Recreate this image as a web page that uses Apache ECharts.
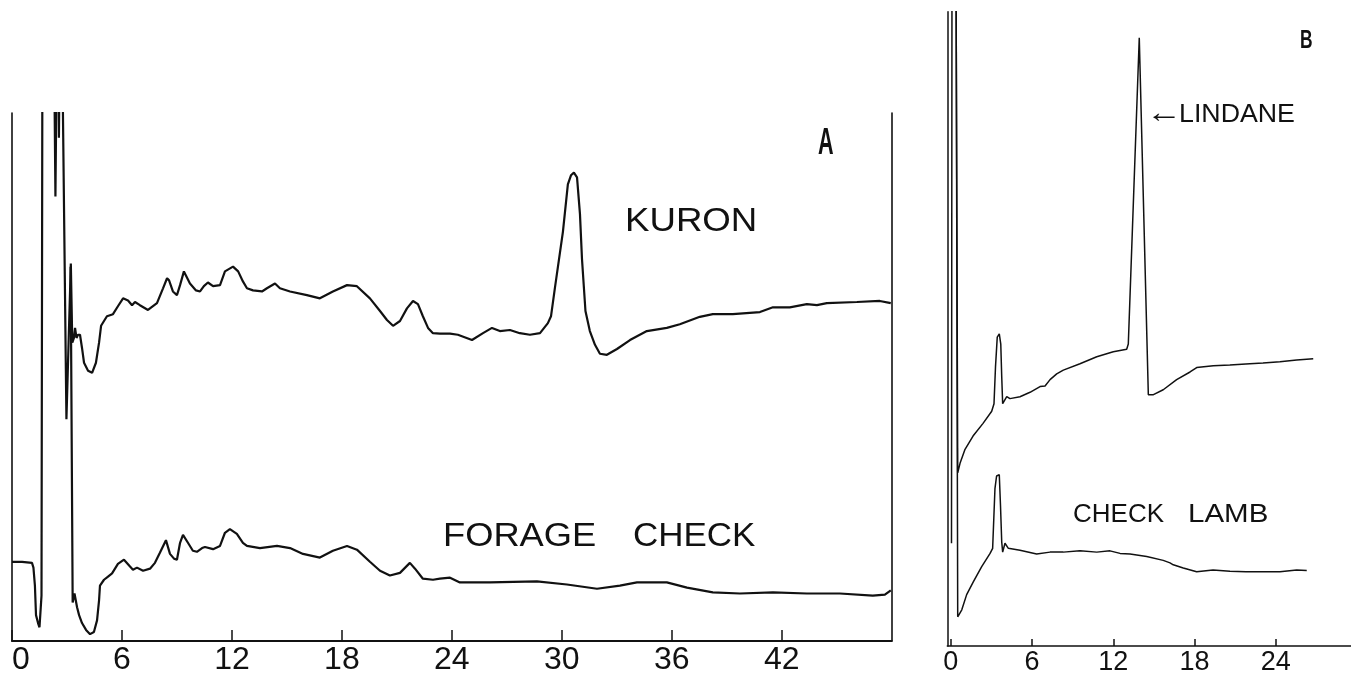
<!DOCTYPE html>
<html>
<head>
<meta charset="utf-8">
<script src="https://cdn.jsdelivr.net/npm/echarts@6/dist/echarts.min.js"></script>
<style>
html,body{margin:0;padding:0;background:#fff;}
#chart{width:1351px;height:676px;}
</style>
</head>
<body>
<div id="chart"></div>
<script>
// ---- DATA (time in minutes, detector response in arbitrary units; >100 = off scale) ----
const ticksA = [0, 6, 12, 18, 24, 30, 36, 42];
const ticksB = [0, 6, 12, 18, 24];

const kuron = [
  [2.29,115],[2.37,84.2],[2.45,115],['-','-'],
  [2.53,115],[2.56,95.3],[2.61,115],['-','-'],
  [2.73,115],[2.97,42.0],[3.21,71.5],[3.29,56.5],[3.38,57.4],[3.44,59.3],[3.52,57.4],[3.60,58.0],
  [3.71,58.0],[3.82,55.5],[3.93,52.7],[4.15,51.2],[4.37,50.8],[4.58,52.7],[4.75,56.5],[4.86,59.7],
  [5.18,61.5],[5.51,61.9],[5.78,63.4],[6.06,64.9],[6.33,64.5],[6.55,63.6],[6.71,64.2],[6.98,63.6],
  [7.42,62.7],[7.91,64.0],[8.24,66.8],[8.46,68.7],[8.57,68.3],[8.78,66.2],[9.00,65.5],[9.17,67.4],
  [9.38,70.0],[9.71,67.7],[10.04,66.4],[10.26,66.2],[10.47,67.2],[10.69,67.9],[10.97,67.2],[11.35,67.4],
  [11.62,70.0],[12.06,70.9],[12.34,70.0],[12.60,68.1],[12.82,66.8],[13.15,66.4],[13.64,66.2],[13.91,66.8],
  [14.35,67.7],[14.62,66.8],[15.17,66.2],[16.09,65.5],[16.80,64.9],[17.51,66.2],[18.28,67.4],[18.82,67.2],
  [19.53,64.9],[20.08,62.5],[20.46,60.8],[20.79,59.7],[21.17,60.6],[21.55,63.0],[21.88,64.4],[22.15,63.8],
  [22.42,61.5],[22.70,59.3],[22.97,58.3],[23.35,58.2],[23.90,58.2],[24.33,58.0],[25.10,57.0],[25.70,58.3],
  [26.19,59.3],[26.62,58.7],[27.17,58.9],[27.71,58.3],[28.26,58.0],[28.81,58.3],[29.24,60.2],[29.41,61.5],
  [29.62,66.8],[30.06,77.5],[30.33,86.5],[30.50,88.2],[30.66,88.7],[30.83,87.8],[30.99,80.9],[31.10,72.4],
  [31.29,62.5],[31.53,58.7],[31.81,56.1],[32.08,54.4],[32.46,54.2],[33.01,55.3],[33.72,57.0],[34.64,58.7],
  [35.73,59.3],[36.44,60.0],[37.53,61.4],[38.24,61.9],[39.33,61.9],[40.81,62.3],[41.52,63.2],[42.44,63.2],
  [43.37,63.8],[43.92,63.6],[44.46,64.0],[46.10,64.2],[47.35,64.4],[47.95,64.0]
];

const forageCheck = [
  [0.00,15.0],[0.55,15.0],[1.09,14.8],[1.17,13.9],[1.25,10.5],[1.31,4.9],[1.42,3.4],[1.50,2.6],
  [1.57,2.8],[1.61,8.6],[1.66,115],['-','-'],
  [3.20,70.9],[3.31,7.3],[3.36,7.3],[3.41,9.0],[3.49,9.2],[3.55,6.4],[3.66,4.9],[3.82,3.4],
  [4.04,2.1],[4.26,1.3],[4.47,1.7],[4.64,3.9],[4.75,7.7],[4.80,10.5],[5.02,11.6],[5.24,12.2],
  [5.46,12.8],[5.78,14.6],[6.11,15.4],[6.44,14.1],[6.60,13.5],[6.82,13.9],[7.15,13.3],[7.53,13.7],
  [7.80,14.8],[8.07,16.7],[8.40,19.1],[8.62,16.5],[8.84,15.6],[9.00,15.4],[9.17,18.6],[9.33,20.1],
  [9.60,18.6],[9.87,17.1],[10.09,16.9],[10.37,17.6],[10.53,17.8],[10.97,17.4],[11.35,18.0],[11.62,20.5],
  [11.89,21.2],[12.27,20.3],[12.60,18.6],[12.82,18.0],[13.53,17.6],[14.46,18.0],[15.17,17.6],[15.88,16.5],
  [16.80,15.8],[17.51,17.1],[18.28,18.0],[18.82,17.3],[19.53,15.0],[20.08,13.3],[20.62,12.4],[21.17,12.9],
  [21.71,14.8],[21.99,13.7],[22.42,11.8],[22.97,11.6],[23.35,11.8],[23.90,12.0],[24.44,11.1],[26.08,11.1],
  [28.64,11.3],[30.28,10.7],[31.92,9.9],[33.17,10.5],[34.10,11.1],[35.73,11.1],[36.83,10.1],[38.24,9.2],
  [39.72,9.0],[41.52,9.2],[43.37,9.0],[45.17,9.0],[46.97,8.6],[47.63,8.8],[47.95,9.6]
];

const lindane = [
  [0.37,115],[0.51,27.3],[0.68,28.8],[1.05,31.0],[1.64,33.1],[2.38,35.1],[3.02,37.0],[3.19,38.2],
  [3.30,44.0],[3.43,48.7],[3.58,49.2],[3.69,47.6],[3.76,42.5],[3.83,38.2],[3.93,38.1],[4.13,39.3],
  [4.37,39.0],[5.11,39.3],[5.85,40.0],[6.59,40.9],[6.96,41.0],[7.33,42.0],[7.82,42.9],[8.31,43.5],
  [9.54,44.5],[10.78,45.6],[12.00,46.4],[12.99,46.8],[13.11,47.6],[13.92,95.9],[14.03,95.9],[14.59,39.6],
  [14.93,39.6],[15.69,40.4],[16.68,42.0],[17.67,43.2],[18.16,43.9],[19.39,44.2],[20.61,44.3],[22.09,44.5],
  [23.06,44.6],[24.31,44.8],[25.55,45.1],[26.77,45.3]
];

const checkLamb = [
  [0.05,16.2],[0.09,115],[0.38,115],[0.51,4.6],[0.81,5.7],[1.17,8.1],[1.66,10.1],[2.28,12.5],
  [2.90,14.6],[3.09,15.4],[3.26,24.8],[3.38,26.8],[3.58,27.0],[3.67,22.1],[3.76,16.4],[3.83,14.8],
  [4.00,16.2],[4.25,15.4],[5.11,15.1],[6.34,14.5],[7.33,14.8],[8.31,14.8],[9.54,15.0],[10.78,14.8],
  [11.76,15.0],[12.50,14.6],[13.24,14.5],[14.47,14.1],[15.69,13.5],[16.19,13.1],[16.43,12.8],[17.17,12.3],
  [18.16,11.7],[19.37,12.0],[20.62,11.8],[21.80,11.7],[23.08,11.7],[24.31,11.7],[25.55,12.0],[26.29,11.9]
];

// ---- CHART ----
const ink = '#111';
const FONT = 'Liberation Sans, DejaVu Sans, sans-serif';
const chart = echarts.init(document.getElementById('chart'), null, {renderer: 'canvas'});

function xAxisFor(gridIndex, min, max, ticks, fontSize, tickLen, lineW, alignMin) {
  const label = {show: true, customValues: ticks, margin: 3, color: ink,
    fontFamily: FONT, fontSize: fontSize};
  if (alignMin) label.alignMinLabel = alignMin;
  return {
    type: 'value', gridIndex: gridIndex, min: min, max: max,
    axisLine: {show: true, onZero: false, lineStyle: {color: ink, width: lineW}},
    axisTick: {show: true, inside: true, length: tickLen, customValues: ticks, lineStyle: {color: ink, width: 1.5}},
    axisLabel: label,
    splitLine: {show: false}
  };
}
function yAxisFor(gridIndex, position, lineW) {
  return {
    type: 'value', gridIndex: gridIndex, min: 0, max: 100, position: position,
    axisLine: {show: true, onZero: false, lineStyle: {color: ink, width: lineW}},
    axisTick: {show: false}, axisLabel: {show: false}, splitLine: {show: false}
  };
}
function trace(name, data, xi, yi, w) {
  return {
    name: name, type: 'line', data: data, xAxisIndex: xi, yAxisIndex: yi,
    showSymbol: false, symbol: 'none', clip: true, connectNulls: false,
    lineStyle: {color: ink, width: w}, animation: false, silent: true
  };
}
// text annotation: x,y = top-left of text box; sx = horizontal stretch
const txt = (x, y, s, size, sx, weight) => ({
  type: 'text', x: x, y: y, silent: true, scaleX: sx || 1, scaleY: 1,
  style: {text: s, fill: ink, fontSize: size, fontWeight: weight || 'normal',
    fontFamily: FONT, align: 'left', verticalAlign: 'top'}
});

chart.setOption({
  backgroundColor: '#fff',
  animation: false,
  grid: [
    {left: 12, top: 113, right: 459.3, bottom: 30},
    {left: 947.3, top: 11.7, right: 0, bottom: 24.3}
  ],
  xAxis: [
    xAxisFor(0, 0, 48, ticksA, 32, 11, 2, 'left'),
    xAxisFor(1, -0.26, 29.56, ticksB, 27, 7, 1.5)
  ],
  yAxis: [
    yAxisFor(0, 'left', 1.6),
    yAxisFor(0, 'right', 1.6),
    yAxisFor(1, 'left', 1.5)
  ],
  series: [
    trace('KURON', kuron, 0, 0, 2.2),
    trace('FORAGE CHECK', forageCheck, 0, 0, 2.2),
    trace('LINDANE', lindane, 1, 2, 1.5),
    trace('CHECK LAMB', checkLamb, 1, 2, 1.5)
  ],
  graphic: [
    txt(625, 205, 'KURON', 33, 1.11),
    txt(443, 520, 'FORAGE', 33, 1.1),
    txt(633, 520, 'CHECK', 33, 1.06),
    txt(818, 126, 'A', 36, 0.6, 'bold'),
    txt(1300, 28, 'B', 26, 0.67, 'bold'),
    txt(1146, 99, '\u2190', 30, 1.2),
    txt(1179, 103, 'LINDANE', 25, 1.07),
    txt(1073, 503, 'CHECK', 25, 1.04),
    txt(1188, 503, 'LAMB', 25, 1.18)
  ]
});
</script>
</body>
</html>
